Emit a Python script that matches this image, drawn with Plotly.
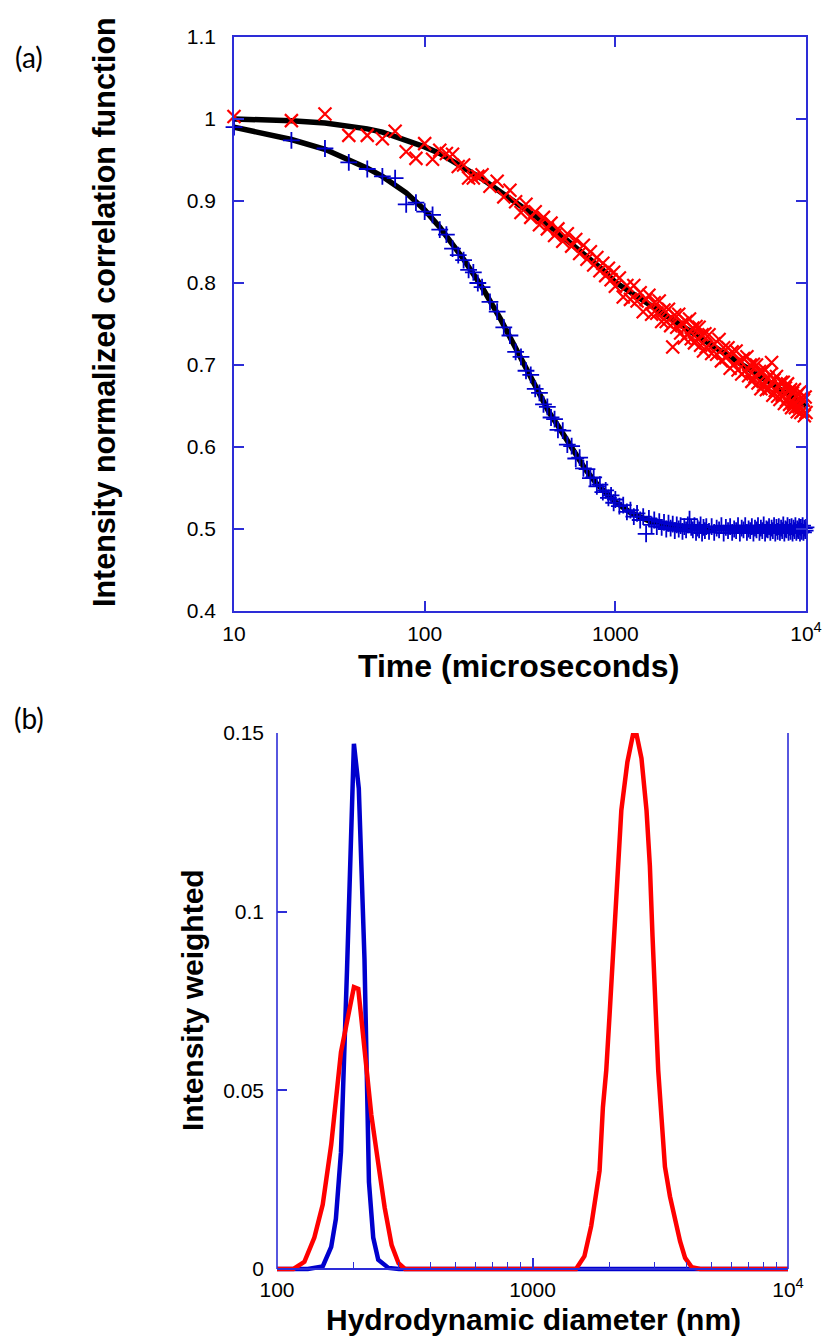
import plotly.graph_objects as go

# ---------------- Panel (a) data ----------------
TIME_US = [10, 20, 30, 40, 50, 60, 70, 80, 90, 100,
           110, 120, 130, 140, 150, 160, 170, 180, 190, 200,
           220, 240, 260, 280, 300, 320, 340, 360, 380, 400,
           420, 440, 460, 480, 500, 530, 560, 590, 620, 650,
           680, 710, 740, 770, 800, 830, 860, 890, 920, 950,
           980, 1000,
           1050, 1100, 1150, 1200, 1250, 1300, 1350, 1400, 1450, 1500,
           1550, 1600, 1650, 1700, 1750, 1800, 1850, 1900, 1950, 2000,
           2050, 2100, 2150, 2200, 2250, 2300, 2350, 2400, 2450, 2500,
           2550, 2600, 2650, 2700, 2750, 2800, 2850, 2900, 2950, 3000,
           3100, 3200, 3300, 3400, 3500, 3600, 3700, 3800, 3900, 4000,
           4100, 4200, 4300, 4400, 4500, 4600, 4700, 4800, 4900, 5000,
           5100, 5200, 5300, 5400, 5500, 5600, 5700, 5800, 5900, 6000,
           6100, 6200, 6300, 6400, 6500, 6600, 6700, 6800, 6900, 7000,
           7100, 7200, 7300, 7400, 7500, 7600, 7700, 7800, 7900, 8000,
           8100, 8200, 8300, 8400, 8500, 8600, 8700, 8800, 8900, 9000,
           9100, 9200, 9300, 9400, 9500, 9600, 9700, 9800, 9900, 10000]

G2_BLUE = [0.990, 0.974, 0.964, 0.947, 0.939, 0.930, 0.928, 0.896, 0.898, 0.887,
           0.883, 0.865, 0.859, 0.842, 0.834, 0.828, 0.816, 0.813, 0.800, 0.795,
           0.777, 0.765, 0.746, 0.736, 0.716, 0.710, 0.693, 0.688, 0.671, 0.666,
           0.652, 0.649, 0.636, 0.634, 0.621, 0.620, 0.603, 0.601, 0.586, 0.587,
           0.574, 0.573, 0.562, 0.563, 0.552, 0.554, 0.545, 0.547, 0.538, 0.541,
           0.532, 0.536,
           0.528, 0.529, 0.521, 0.523, 0.515, 0.519, 0.511, 0.515, 0.494, 0.513,
           0.505, 0.511, 0.503, 0.509, 0.502, 0.508, 0.500, 0.507, 0.501, 0.506,
           0.498, 0.505, 0.500, 0.504, 0.497, 0.503, 0.499, 0.505, 0.512, 0.502,
           0.499, 0.504, 0.496, 0.501, 0.499, 0.505, 0.495, 0.502, 0.498, 0.503,
           0.497, 0.503, 0.496, 0.501, 0.499, 0.504, 0.495, 0.502, 0.498, 0.503,
           0.496, 0.500, 0.498, 0.504, 0.495, 0.501, 0.499, 0.504, 0.496, 0.500,
           0.498, 0.503, 0.495, 0.501, 0.499, 0.504, 0.496, 0.501, 0.498, 0.505,
           0.495, 0.500, 0.499, 0.503, 0.496, 0.501, 0.498, 0.504, 0.495, 0.502,
           0.497, 0.503, 0.496, 0.501, 0.498, 0.505, 0.495, 0.500, 0.499, 0.504,
           0.496, 0.502, 0.497, 0.503, 0.495, 0.501, 0.498, 0.504, 0.496, 0.500,
           0.498, 0.503, 0.495, 0.502, 0.497, 0.504, 0.496, 0.501, 0.498, 0.502]

G2_RED = [1.003, 0.998, 1.006, 0.980, 0.980, 0.976, 0.985, 0.960, 0.952, 0.970,
          0.951, 0.962, 0.958, 0.957, 0.942, 0.944, 0.928, 0.928, 0.930, 0.932,
          0.918, 0.924, 0.905, 0.913, 0.899, 0.886, 0.896, 0.880, 0.887, 0.871,
          0.880, 0.866, 0.873, 0.858, 0.866, 0.851, 0.860, 0.845, 0.853, 0.836,
          0.846, 0.829, 0.838, 0.822, 0.831, 0.815, 0.824, 0.809, 0.818, 0.804,
          0.813, 0.796,
          0.806, 0.783, 0.797, 0.780, 0.797, 0.778, 0.788, 0.765, 0.780, 0.785,
          0.762, 0.776, 0.763, 0.778, 0.753, 0.767, 0.753, 0.768, 0.748, 0.722,
          0.761, 0.746, 0.762, 0.739, 0.751, 0.733, 0.753, 0.738, 0.756, 0.732,
          0.745, 0.727, 0.747, 0.732, 0.746, 0.724, 0.737, 0.717, 0.738, 0.722,
          0.737, 0.714, 0.726, 0.713, 0.731, 0.705, 0.721, 0.709, 0.721, 0.696,
          0.716, 0.701, 0.717, 0.694, 0.705, 0.689, 0.708, 0.693, 0.710, 0.687,
          0.700, 0.680, 0.701, 0.686, 0.700, 0.678, 0.692, 0.671, 0.692, 0.676,
          0.694, 0.670, 0.684, 0.671, 0.688, 0.703, 0.663, 0.682, 0.669, 0.686,
          0.662, 0.674, 0.658, 0.679, 0.663, 0.679, 0.653, 0.672, 0.657, 0.677,
          0.660, 0.652, 0.670, 0.648, 0.666, 0.653, 0.670, 0.648, 0.662, 0.643,
          0.665, 0.649, 0.667, 0.642, 0.660, 0.644, 0.657, 0.638, 0.661, 0.642]

FIT_T_BLUE = [10, 20, 30, 40, 50, 60, 70, 80, 90, 100, 120, 140, 160, 180, 200,
              250, 300, 350, 400, 450, 500, 600, 700, 800, 900, 1000, 1200, 1500,
              2000, 3000, 5000, 10000]
FIT_G_BLUE = [0.990, 0.975, 0.963, 0.951, 0.940, 0.930, 0.920, 0.910, 0.899, 0.889,
              0.868, 0.848, 0.829, 0.811, 0.795, 0.756, 0.720, 0.690, 0.664, 0.642,
              0.626, 0.595, 0.572, 0.555, 0.543, 0.533, 0.520, 0.510, 0.504, 0.501,
              0.500, 0.500]

FIT_T_RED = [10, 20, 30, 40, 50, 60, 70, 80, 100, 120, 150, 200, 250, 320, 400,
             480, 600, 700, 850, 1000, 1300, 1600, 2000, 2800, 4000, 6000, 10000]
FIT_G_RED = [1.000, 0.998, 0.995, 0.992, 0.988, 0.984, 0.979, 0.975, 0.966, 0.958,
             0.944, 0.927, 0.911, 0.893, 0.878, 0.865, 0.846, 0.834, 0.817, 0.801,
             0.783, 0.769, 0.755, 0.733, 0.710, 0.683, 0.650]

# ---------------- Panel (b) data ----------------
DIAM_BLUE = [100, 132, 151, 163, 170, 175, 178, 188, 200, 209, 220, 226, 229,
             238, 249, 273, 300, 1000, 10000]
INT_BLUE = [0.0, 0.0, 0.0007, 0.0062, 0.014, 0.0244, 0.0327, 0.084, 0.147, 0.1345,
            0.0867, 0.0451, 0.0244, 0.0088, 0.0026, 0.0003, 0.0, 0.0, 0.0]

DIAM_RED = [100, 116, 128, 140, 151, 163, 178, 189, 200, 208, 220, 234, 249, 264,
            281, 299, 317, 1000, 1481, 1597, 1697, 1776, 1830, 1886, 1944, 2003,
            2065, 2161, 2227, 2352, 2476, 2552, 2670, 2794, 2880, 2950, 3022, 3105,
            3200, 3299, 3452, 3612, 3780, 3956, 4202, 4529, 10000]
INT_RED = [0.0, 0.0, 0.002, 0.0088, 0.018, 0.0348, 0.0607, 0.070, 0.0789, 0.0784,
           0.0607, 0.0431, 0.0296, 0.0171, 0.0067, 0.0016, 0.0, 0.0, 0.0, 0.0036,
           0.0120, 0.0213, 0.0275, 0.0452, 0.0556, 0.0712, 0.0868, 0.1107, 0.1284,
           0.1419, 0.1497, 0.1497, 0.1429, 0.1284, 0.1128, 0.0930, 0.0764, 0.0556,
           0.0421, 0.0286, 0.0203, 0.0140, 0.0078, 0.0031, 0.0005, 0.0, 0.0]

A_YTICKS = [0.4, 0.5, 0.6, 0.7, 0.8, 0.9, 1.0, 1.1]
A_YTEXT = ["0.4", "0.5", "0.6", "0.7", "0.8", "0.9", "1", "1.1"]
A_XTICKS = [10, 100, 1000, 10000]
A_XTEXT = ["10", "100", "1000", "10<sup>4</sup>"]
B_YTICKS = [0, 0.05, 0.1, 0.15]
B_YTEXT = ["0", "0.05", "0.1", "0.15"]
B_XTICKS = [100, 1000, 10000]
B_XTEXT = ["100", "1000", "10<sup>4</sup>"]
B_XMINOR = [200, 300, 400, 500, 600, 700, 800, 900,
            2000, 3000, 4000, 5000, 6000, 7000, 8000, 9000]
B_RIGHT_TICKS = [0, 1, 2, 3, 4, 5, 6, 7]

# ---------------- Figure ----------------
# positions below are page pixels; the page margin is removed by the post script
W, H = 824, 1338
AX = "rgb(45,45,215)"
BLUE = "rgb(0,0,205)"
RED = "rgb(255,0,0)"
TICKFONT = dict(family="Liberation Sans, Arial, sans-serif", size=21, color="black")


def fx(p):
    return p / W


def fy(p):
    return 1 - p / H


fig = go.Figure()

# panel (a)
fig.add_trace(go.Scatter(x=FIT_T_BLUE, y=FIT_G_BLUE, mode="lines",
                         line=dict(color="black", width=5.5), xaxis="x", yaxis="y",
                         showlegend=False))
fig.add_trace(go.Scatter(x=FIT_T_RED, y=FIT_G_RED, mode="lines",
                         line=dict(color="black", width=5.5), xaxis="x", yaxis="y",
                         showlegend=False))
fig.add_trace(go.Scatter(x=TIME_US, y=G2_BLUE, mode="markers", cliponaxis=False,
                         marker=dict(symbol="cross-thin-open", size=12, color=BLUE,
                                     line=dict(color=BLUE, width=1.8)),
                         xaxis="x", yaxis="y", showlegend=False))
fig.add_trace(go.Scatter(x=TIME_US, y=G2_RED, mode="markers", cliponaxis=False,
                         marker=dict(symbol="x-thin-open", size=13, color=RED,
                                     line=dict(color=RED, width=2.2)),
                         xaxis="x", yaxis="y", showlegend=False))

# panel (b)
fig.add_trace(go.Scatter(x=DIAM_BLUE, y=INT_BLUE, mode="lines",
                         line=dict(color=BLUE, width=4.5),
                         xaxis="x2", yaxis="y2", showlegend=False))
fig.add_trace(go.Scatter(x=DIAM_RED, y=INT_RED, mode="lines",
                         line=dict(color=RED, width=4.5),
                         xaxis="x2", yaxis="y2", showlegend=False))

b_top, b_zero = 733, 1269
b_ymin = -0.0025
b_bottom_px = b_zero + (0 - b_ymin) / 0.15 * (b_zero - b_top)

common = dict(automargin=False, showgrid=False, zeroline=False, tickcolor=AX,
              tickwidth=1.6, ticklen=10, ticks="inside", tickfont=TICKFONT)


def label(text, x, y, size, angle=0, family="Liberation Sans, Arial, sans-serif"):
    return dict(text=text, x=fx(x), y=fy(y), xref="paper", yref="paper",
                xanchor="center", yanchor="middle", showarrow=False, textangle=angle,
                font=dict(family=family, size=size, color="black"))


fig.update_layout(
    width=W, height=H, margin=dict(l=0, r=0, t=0, b=0, autoexpand=False),
    paper_bgcolor="white", plot_bgcolor="white",
    xaxis=dict(domain=[fx(234), fx(806)], type="log", range=[1, 4], anchor="y",
               showline=True, linecolor=AX, linewidth=1.6, mirror="ticks",
               tickvals=A_XTICKS, ticktext=A_XTEXT, ticklabelstandoff=3, **common),
    yaxis=dict(domain=[fy(611), fy(37)], range=[0.4, 1.1], anchor="x",
               showline=True, linecolor=AX, linewidth=1.6, mirror="ticks",
               tickvals=A_YTICKS, ticktext=A_YTEXT, ticklabelstandoff=12, **common),
    xaxis2=dict(domain=[fx(277), fx(788)], type="log", range=[2, 4], anchor="free",
                position=fy(b_zero), showline=True, linecolor=AX, linewidth=1.6,
                tickvals=B_XTICKS, ticktext=B_XTEXT, ticklabelstandoff=2,
                minor=dict(tickvals=B_XMINOR, ticks="inside", ticklen=6,
                           tickwidth=1.4, tickcolor=AX, showgrid=False), **common),
    yaxis2=dict(domain=[fy(b_bottom_px), fy(b_top)], range=[b_ymin, 0.15], anchor="x2",
                showline=False, tickvals=B_YTICKS, ticktext=B_YTEXT,
                ticklabelstandoff=12, **common),
    yaxis3=dict(overlaying="y2", side="right", anchor="x2",
                range=[b_ymin / 0.15 * 7, 7], showline=False, tickvals=B_RIGHT_TICKS,
                showticklabels=False, **common),
    shapes=[
        dict(type="line", xref="x2 domain", yref="y2", x0=0, x1=0, y0=0, y1=0.15,
             line=dict(color=AX, width=1.6)),
        dict(type="line", xref="x2 domain", yref="y2", x0=1, x1=1, y0=0, y1=0.15,
             line=dict(color=AX, width=1.6)),
    ],
    annotations=[
        label("(a)", 29, 57, 28, family="Lato, Open Sans, sans-serif"),
        label("(b)", 29, 718, 28, family="Lato, Open Sans, sans-serif"),
        label("<b>Time (microseconds)</b>", 518, 666, 32),
        label("<b>Intensity normalized correlation function</b>", 104, 312, 30.5,
              angle=-90),
        label("<b>Hydrodynamic diameter (nm)</b>", 533, 1319, 30),
        label("<b>Intensity weighted</b>", 192, 1000, 30, angle=-90),
    ],
)

fig.write_html(
    "out.html",
    config={"displayModeBar": False},
    post_script="document.body.style.margin='0px';document.body.style.overflow='hidden';",
)
